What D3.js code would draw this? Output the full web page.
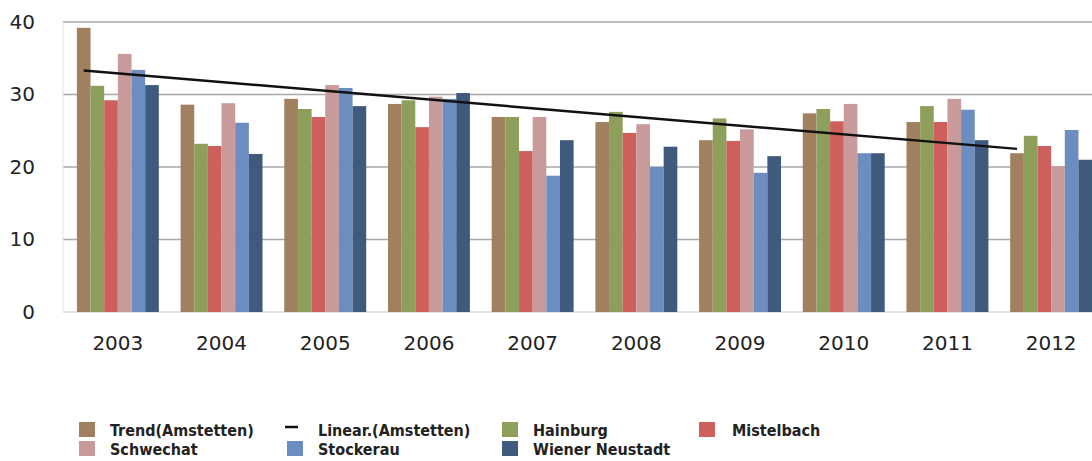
<!doctype html>
<html lang="de">
<head>
  <meta charset="UTF-8">
  <title>Chart</title>
  <script src="https://cdn.jsdelivr.net/npm/d3@7"></script>
  <style>
    body { margin: 0; background: #fff; }
  </style>
</head>
<body>
<svg width="1092" height="461" id="chart"></svg>
<script>
  // data
  var years = ['2003', '2004', '2005', '2006', '2007', '2008', '2009', '2010', '2011', '2012'];
  var seriesNames = ['Trend(Amstetten)', 'Hainburg', 'Mistelbach', 'Schwechat', 'Stockerau', 'Wiener Neustadt'];
  var amstetten = [39.2, 28.6, 29.4, 28.7, 26.9, 26.2, 23.7, 27.4, 26.2, 21.9];
  var hainburg = [31.2, 23.2, 28.0, 29.2, 26.9, 27.6, 26.7, 28.0, 28.4, 24.3];
  var mistelbach = [29.2, 22.9, 26.9, 25.5, 22.2, 24.7, 23.6, 26.3, 26.2, 22.9];
  var schwechat = [35.6, 28.8, 31.3, 29.7, 26.9, 25.9, 25.2, 28.7, 29.4, 20.1];
  var stockerau = [33.4, 26.1, 30.9, 29.4, 18.8, 20.0, 19.2, 21.9, 27.9, 25.1];
  var wienerNeustadt = [31.3, 21.8, 28.4, 30.2, 23.7, 22.8, 21.5, 21.9, 23.7, 21.0];
  var trendEnds = [{year: '2003', value: 33.3}, {year: '2012', value: 22.5}];
  var yTicks = [0, 10, 20, 30, 40];

  var colors = ['#a1805f', '#8e9f5b', '#cd5f5d', '#c89a9a', '#6b8dbf', '#405a7e'];
  var allSeries = [amstetten, hainburg, mistelbach, schwechat, stockerau, wienerNeustadt];

  var svg = d3.select('#chart');

  var x = d3.scaleBand().domain(years).range([66, 1103]).paddingInner(0.21).paddingOuter(0.105);
  var x1 = d3.scaleBand().domain(d3.range(seriesNames.length)).range([0, x.bandwidth()]);
  var y = d3.scaleLinear().domain([0, 40]).range([312, 22]);

  // grid
  svg.append('g').selectAll('line').data(yTicks).enter().append('line')
    .attr('x1', 63).attr('x2', 1092)
    .attr('y1', function (d) { return y(d); })
    .attr('y2', function (d) { return y(d); })
    .attr('stroke', function (d) { return d === 0 ? '#d8d8d8' : '#a8a8a8'; })
    .attr('stroke-width', 1.5);

  svg.append('line').attr('x1', 63).attr('x2', 63).attr('y1', y(40)).attr('y2', y(0))
    .attr('stroke', '#e4e4e4');

  // y axis
  var yAxis = svg.append('g').attr('transform', 'translate(35,0)')
    .call(d3.axisLeft(y).tickValues(yTicks).tickSize(0).tickPadding(0));
  yAxis.select('.domain').remove();
  yAxis.selectAll('text')
    .attr('font-family', 'DejaVu Sans').attr('font-size', 20).attr('fill', '#222');

  // x axis
  var xAxis = svg.append('g').attr('transform', 'translate(0,' + 336 + ')')
    .call(d3.axisBottom(x).tickSize(0).tickPadding(0));
  xAxis.select('.domain').remove();
  xAxis.selectAll('text')
    .attr('font-family', 'DejaVu Sans').attr('font-size', 20).attr('fill', '#222');

  // bars
  var groups = svg.append('g').selectAll('g').data(years).enter().append('g')
    .attr('transform', function (d) { return 'translate(' + x(d) + ',0)'; });

  groups.selectAll('rect')
    .data(function (d, i) { return allSeries.map(function (s, k) { return {k: k, v: s[i]}; }); })
    .enter().append('rect')
    .attr('x', function (d) { return x1(d.k); })
    .attr('y', function (d) { return y(d.v); })
    .attr('width', x1.bandwidth())
    .attr('height', function (d) { return y(0) - y(d.v); })
    .attr('fill', function (d) { return colors[d.k]; });

  // linear trend of Amstetten
  var line = d3.line()
    .x(function (d) { return x(d.year) + x1(0) + x1.bandwidth() / 2; })
    .y(function (d) { return y(d.value); });
  svg.append('path').datum(trendEnds)
    .attr('d', line).attr('fill', 'none').attr('stroke', '#111').attr('stroke-width', 2.5);

  // legend
  var legendItems = [
    {label: 'Trend(Amstetten)', color: colors[0], x: 79, row: 0},
    {label: 'Linear.(Amstetten)', line: true, x: 285, row: 0},
    {label: 'Hainburg', color: colors[1], x: 502, row: 0},
    {label: 'Mistelbach', color: colors[2], x: 699, row: 0},
    {label: 'Schwechat', color: colors[3], x: 79, row: 1},
    {label: 'Stockerau', color: colors[4], x: 287, row: 1},
    {label: 'Wiener Neustadt', color: colors[5], x: 502, row: 1}
  ];
  var lg = svg.append('g').selectAll('g').data(legendItems).enter().append('g')
    .attr('transform', function (d) { return 'translate(' + d.x + ',' + (422 + d.row * 19) + ')'; });
  lg.filter(function (d) { return !d.line; }).append('rect')
    .attr('width', 16).attr('height', 15).attr('fill', function (d) { return d.color; });
  lg.filter(function (d) { return d.line; }).append('line')
    .attr('x1', 0).attr('x2', 13).attr('y1', 5).attr('y2', 5)
    .attr('stroke', '#111').attr('stroke-width', 2.5);
  lg.append('text')
    .attr('x', function (d) { return d.line ? 33 : (d.label === 'Mistelbach' ? 33 : 31); })
    .attr('y', 14)
    .attr('font-family', "'DejaVu Sans Condensed', 'DejaVu Sans'")
    .attr('font-stretch', 'condensed')
    .attr('font-weight', 'bold').attr('font-size', 16)
    .attr('fill', '#222')
    .text(function (d) { return d.label; });
</script>
</body>
</html>
